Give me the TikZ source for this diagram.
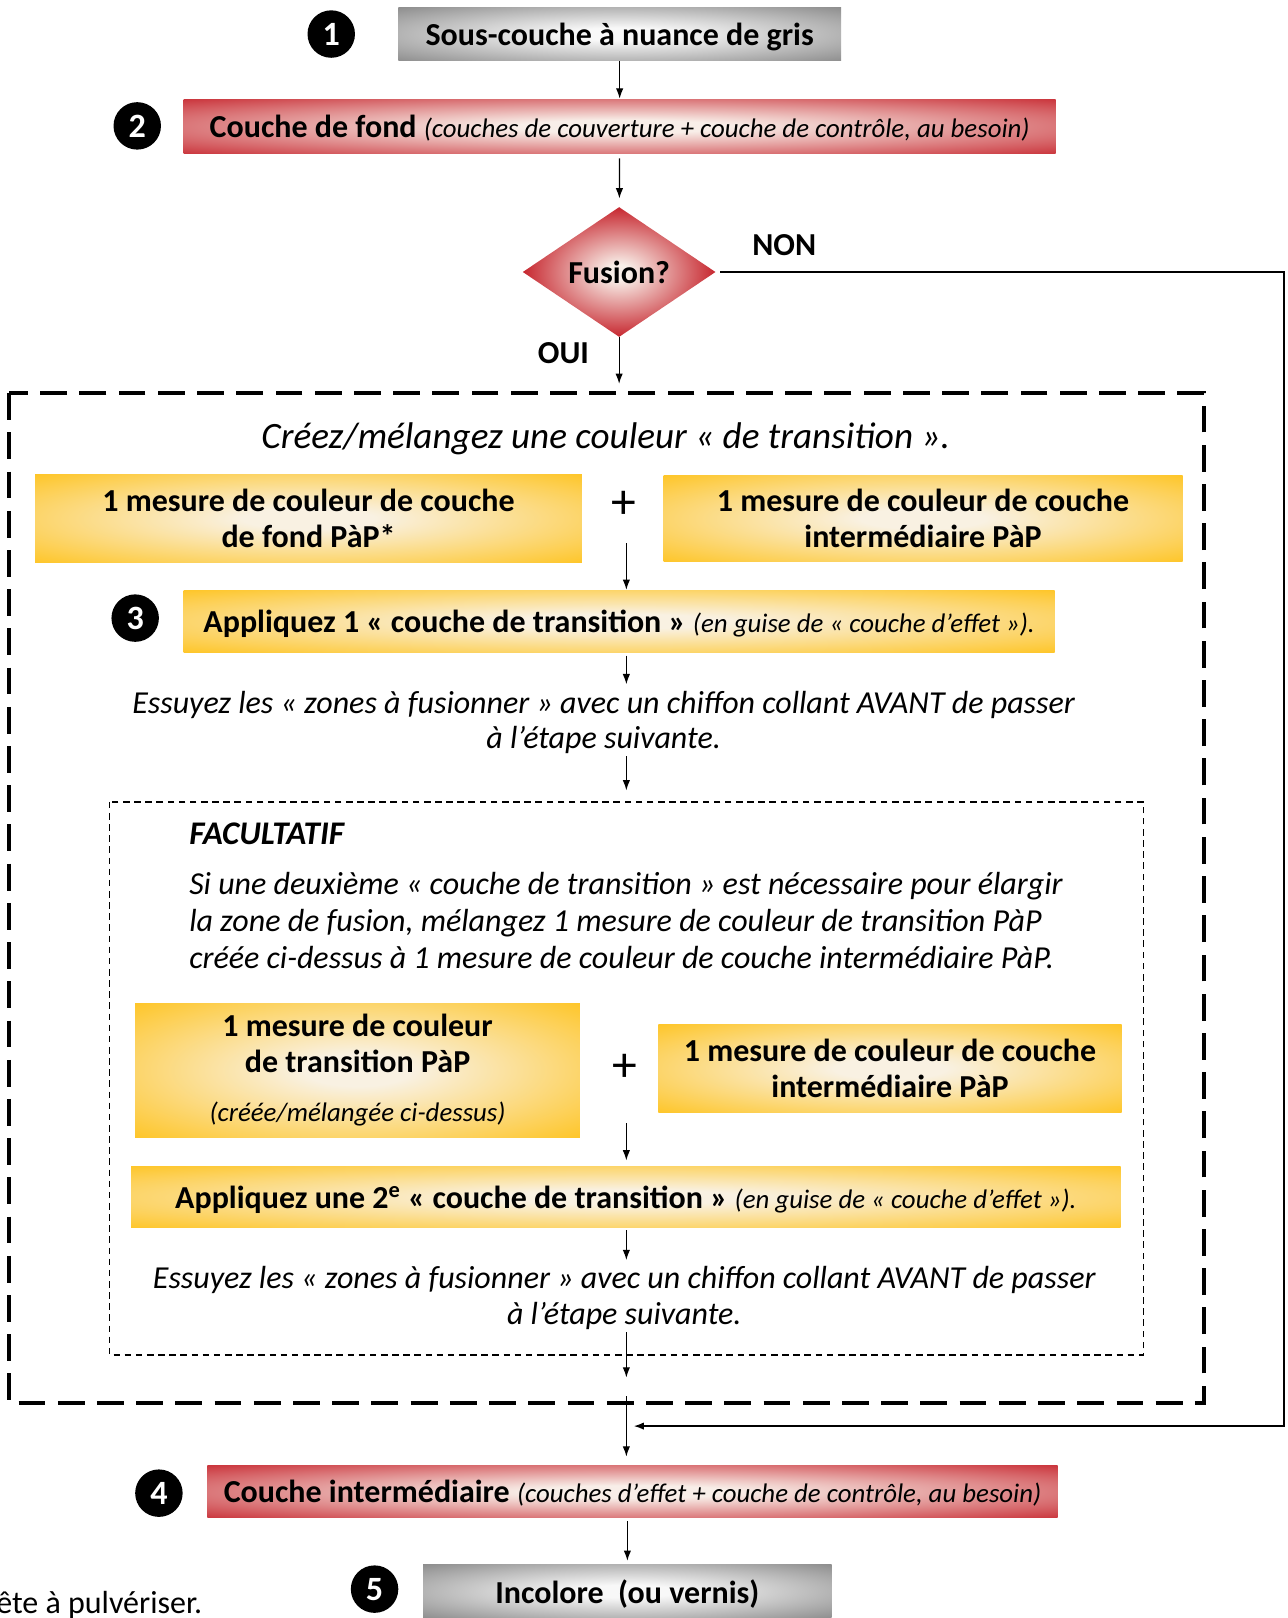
\documentclass[tikz,border=0pt]{standalone}
\usepackage{fontspec}
\setmainfont{Carlito}
\usetikzlibrary{arrows.meta,shapes.geometric,positioning}

\definecolor{redout}{RGB}{192,12,22}
\definecolor{redin}{RGB}{248,238,232}
\definecolor{goldout}{RGB}{255,188,0}
\definecolor{goldin}{RGB}{249,241,226}
\definecolor{greyout}{RGB}{118,118,118}
\definecolor{greyin}{RGB}{248,248,248}

\pgfdeclareradialshading{redglow}{\pgfpoint{0bp}{0bp}}{color(0bp)=(redin); color(6bp)=(redin); color(42bp)=(redout); color(100bp)=(redout)}
\pgfdeclareradialshading{goldglow}{\pgfpoint{0bp}{0bp}}{color(0bp)=(goldin); color(6bp)=(goldin); color(42bp)=(goldout); color(100bp)=(goldout)}
\pgfdeclareradialshading{greyglow}{\pgfpoint{0bp}{0bp}}{color(0bp)=(greyin); color(6bp)=(greyin); color(42bp)=(greyout); color(100bp)=(greyout)}
\pgfdeclareradialshading{fusionglow}{\pgfpoint{0bp}{0bp}}{color(0bp)=(redin); color(3bp)=(redin); color(28bp)=(redout); color(100bp)=(redout)}

\newcommand{\aside}[1]{{\fontsize{13}{15}\selectfont\mdseries\itshape #1}}

\begin{document}
\begin{tikzpicture}[x=0.5pt,y=-0.5pt,
    every node/.style={font=\fontsize{15.5}{17.5}\selectfont},
    num/.style={circle,fill=black,text=white,minimum size=23pt,inner sep=0pt,font=\fontsize{16.5}{16}\selectfont\bfseries},
    redbox/.style={shade,shading=redglow,inner sep=0pt,text depth=0pt,font=\fontsize{15.5}{17.5}\selectfont\bfseries},
    goldbox/.style={shade,shading=goldglow,inner sep=0pt,align=center,font=\fontsize{15.5}{17.5}\selectfont\bfseries},
    greybox/.style={shade,shading=greyglow,inner sep=0pt,text depth=0pt,font=\fontsize{15.5}{17.5}\selectfont\bfseries},
    note/.style={align=center,inner sep=1pt,font=\fontsize{15.5}{17.2}\selectfont\itshape},
    plus/.style={inner sep=0pt,font=\fontsize{24}{24}\selectfont},
    arr/.style={-{Latex[length=5pt,width=3.6pt]},line width=0.6pt}]

    \useasboundingbox (0,0) rectangle (1248,1568);

    % etapes 1 et 2
    \node[num] (n1) at (321,33) {1};
    \node[greybox,minimum width=214.5pt,minimum height=26pt] (sous) at (600.5,33) {Sous-couche à nuance de gris};
    \node[num] (n2) at (133,122) {2};
    \node[redbox,minimum width=422.5pt,minimum height=26.5pt] (fond) at (600.5,122.5) {Couche de fond \aside{(couches de couverture + couche de contrôle, au besoin)}};

    \node[diamond,aspect=1.5,shade,shading=fusionglow,minimum width=93.5pt,minimum height=63pt,inner sep=0pt,font=\fontsize{15.5}{17}\selectfont\bfseries] (fusion) at (600,263.6) {Fusion?};
    \node[font=\fontsize{15.5}{17}\selectfont\bfseries] (non) at (760,238) {NON};
    \node[font=\fontsize{15.5}{17}\selectfont\bfseries] (oui) at (546,342) {OUI};

    % cadre
    \draw[line width=2pt,dash pattern=on 13pt off 6pt] (9,381) rectangle (1167,1360);
    \draw[line width=0.7pt,dash pattern=on 3.2pt off 2.2pt] (106,777) rectangle (1108,1313);

    \node[note,font=\fontsize{18}{20}\selectfont\itshape] (titre) at (587,425) {Créez/mélangez une couleur « de transition ».};
    \node[goldbox,minimum width=265pt,minimum height=42.5pt] (fondpap) at (299,502.5) {1 mesure de couleur de couche\\de fond PàP*};
    \node[plus] (plus1) at (605,489) {+};
    \node[goldbox,minimum width=251.5pt,minimum height=41.5pt] (interpap) at (894.5,502.5) {1 mesure de couleur de couche\\intermédiaire PàP};

    \node[num] (n3) at (131,599) {3};
    \node[redbox,shading=goldglow,minimum width=422pt,minimum height=30pt] (trans) at (600,602) {Appliquez 1 « couche de transition » \aside{(en guise de « couche d’effet »).}};
    \node[note] (essuyez) at (585,700) {Essuyez les « zones à fusionner » avec un chiffon collant AVANT de passer\\à l’étape suivante.};

    % facultatif
    \node[anchor=west,inner sep=0pt,font=\fontsize{16}{17.5}\selectfont\bfseries\itshape] (facult) at (183,808) {FACULTATIF};
    \node[anchor=north west,align=left,inner sep=0pt,font=\fontsize{15.5}{17.8}\selectfont\itshape] (texte) at (183,845) {Si une deuxième « couche de transition » est nécessaire pour élargir\\la zone de fusion, mélangez 1 mesure de couleur de transition PàP\\créée ci-dessus à 1 mesure de couleur de couche intermédiaire PàP.};
    \node[goldbox,minimum width=215.5pt,minimum height=65pt] (transpap) at (346.5,1037) {1 mesure de couleur\\de transition PàP\\[6pt]\aside{(créée/mélangée ci-dessus)}};
    \node[plus] (plus2) at (606,1035) {+};
    \node[goldbox,minimum width=224.5pt,minimum height=42.5pt] (interpap2) at (862.5,1035.5) {1 mesure de couleur de couche\\intermédiaire PàP};
    \node[redbox,shading=goldglow,minimum width=479.5pt,minimum height=30pt] (trans2) at (606.5,1160) {Appliquez une 2\textsuperscript{e} « couche de transition » \aside{(en guise de « couche d’effet »).}};
    \node[note] (essuyez2) at (605,1258) {Essuyez les « zones à fusionner » avec un chiffon collant AVANT de passer\\à l’étape suivante.};

    % etapes 4 et 5
    \node[num] (n4) at (154,1447) {4};
    \node[redbox,minimum width=412pt,minimum height=25.5pt] (inter) at (613,1445.5) {Couche intermédiaire \aside{(couches d’effet + couche de contrôle, au besoin)}};
    \node[num] (n5) at (363,1540) {5};
    \node[greybox,minimum width=198pt,minimum height=26pt] (incolore) at (608,1542) {Incolore~ (ou vernis)};
    \node[anchor=base west,inner sep=0pt] (reste) at (-4,1564) {ête à pulvériser.};

    % fleches
    \coordinate (axe) at (607,0);
    \coordinate (entree) at (600,381);
    \coordinate (haut) at (607,777);
    \coordinate (bas1) at (607,1335);
    \coordinate (bas2) at (607,1353);
    \coordinate (coin1) at (1244,263.6);
    \coordinate (coin2) at (1244,1382);
    \coordinate (retour) at (607,1382);

    \draw[arr] (sous) -- (fond);
    \draw[arr,shorten <=2pt,shorten >=4pt] (fond) -- (fusion);
    \draw[arr,shorten >=4.5pt] (fusion) -- (entree);
    \draw[arr,line width=0.8pt,shorten <=2pt,shorten >=3.5pt] (fusion.east) -- (coin1) -- (coin2) -- (retour);
    \draw[arr,shorten <=12pt] (plus1.south -| axe) -- (trans.north -| axe);
    \draw[arr,shorten <=1.5pt,shorten >=2pt] (trans.south -| axe) -- (essuyez.north -| axe);
    \draw[arr,shorten >=5.5pt] (essuyez.south -| axe) -- (haut);
    \draw[arr,shorten <=20pt,shorten >=2.5pt] (plus2.south -| axe) -- (trans2.north -| axe);
    \draw[arr,shorten <=1pt,shorten >=2pt] (trans2.south -| axe) -- (essuyez2.north -| axe);
    \draw[arr] (essuyez2.south -| axe) -- (bas1);
    \draw[arr,shorten >=4pt] (bas2) -- (inter.north -| axe);
    \draw[arr,shorten <=1.5pt,shorten >=1.5pt] (inter.south -| incolore) -- (incolore);
\end{tikzpicture}
\end{document}
